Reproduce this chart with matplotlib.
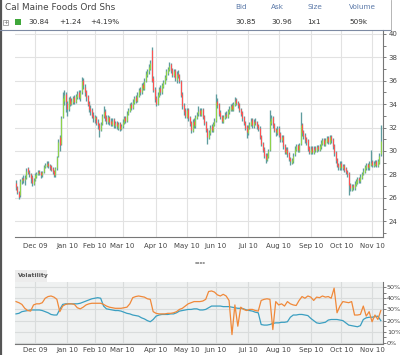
import numpy as np
import pandas as pd
import matplotlib
matplotlib.use('Agg')
import matplotlib.pyplot as plt
from matplotlib.patches import Rectangle
from matplotlib.lines import Line2D

# trading calendar (NYSE holidays removed)
holidays = ['2009-11-26', '2009-12-25', '2010-01-01', '2010-01-18', '2010-02-15',
            '2010-04-02', '2010-05-31', '2010-07-05', '2010-09-06']
dates = pd.bdate_range('2009-11-11', '2010-11-09', freq='C', holidays=holidays)

# daily prices
opens = [
    27.3, 26.9, 26.5, 26.2, 27.4, 27.7, 27.5, 27.7, 28.5, 28.2, 28.0, 27.8, 27.2,
    27.5, 27.8, 28.0, 28.3, 28.2, 27.9, 28.2, 28.6, 28.7, 29.0, 28.8, 28.7, 28.5, 28.3, 27.9, 28.5, 29.6, 31.2, 30.6, 32.9, 34.3, 34.9,
    34.1, 33.6, 34.5, 34.0, 34.2, 34.6, 34.2, 34.6, 35.0, 34.5, 35.0, 36.1, 35.5, 35.1, 34.7, 34.1, 33.7, 33.5, 33.1,
    32.7, 32.9, 32.5, 32.3, 31.8, 32.3, 33.0, 33.4, 32.9, 32.5, 32.9, 32.6, 32.2, 32.7, 32.1, 32.5, 32.0, 32.4, 31.9,
    32.1, 32.4, 32.9, 32.6, 33.2, 33.4, 34.0, 33.7, 34.1, 34.6, 34.3, 34.7, 35.3, 35.0, 35.7, 35.3, 36.0, 36.5, 36.8, 37.0, 38.6, 36.2, 35.3,
    34.5, 34.0, 34.7, 35.4, 35.0, 35.5, 35.8, 36.2, 36.7, 36.9, 37.4, 37.0, 36.4, 36.9, 36.1, 36.7, 36.5, 36.0, 34.9, 33.9, 33.5,
    32.9, 33.6, 32.9, 32.5, 31.7, 32.6, 32.1, 32.8, 33.2, 33.5, 33.1, 33.6, 33.0, 32.5, 31.9, 31.1, 31.5, 32.1, 31.7, 32.2,
    32.6, 34.3, 34.0, 33.3, 33.0, 32.5, 32.8, 33.2, 32.9, 33.3, 33.5, 33.9, 33.5, 33.9, 34.4, 34.2, 34.0, 33.6, 33.3, 32.9, 32.5, 32.1,
    31.5, 32.0, 32.2, 32.7, 32.1, 32.6, 32.5, 32.2, 32.0, 31.3, 30.7, 30.2, 29.7, 29.2, 29.5, 30.1, 32.4, 32.9, 32.3, 31.9, 31.5,
    32.0, 31.5, 30.9, 31.3, 30.5, 29.8, 30.2, 29.8, 29.4, 29.0, 29.1, 29.7, 30.1, 30.5, 30.0, 30.6, 32.3, 31.7, 31.4, 31.1, 30.9, 30.3,
    29.8, 30.3, 29.8, 30.3, 30.0, 30.4, 30.1, 30.3, 30.6, 31.0, 30.5, 30.8, 31.2, 30.7, 31.3, 31.0, 30.5, 29.9, 29.3, 28.9, 28.5,
    29.0, 28.5, 28.8, 28.5, 28.3, 28.1, 27.2, 26.7, 27.1, 26.8, 27.1, 27.3, 27.7, 27.4, 27.7, 28.0, 28.2, 28.5, 28.9, 28.5, 28.8,
    29.1, 28.7, 28.8, 29.1, 28.7, 29.0, 29.7,
]
highs = [
    27.5, 27.0, 26.6, 27.6, 27.8, 27.9, 27.9, 28.5, 28.6, 28.4, 28.1, 27.9, 27.7,
    28.1, 28.2, 28.4, 28.4, 28.3, 28.3, 28.8, 29.0, 29.1, 29.1, 28.9, 28.8, 28.6, 28.4, 28.6, 29.6, 31.0, 31.4, 33.0, 35.0, 35.2, 35.0,
    34.3, 34.6, 34.7, 34.5, 34.7, 34.8, 34.9, 35.1, 35.2, 35.2, 36.3, 36.2, 35.7, 35.2, 34.8, 34.3, 33.9, 33.7, 33.3,
    33.1, 33.0, 32.7, 32.4, 32.5, 33.2, 33.8, 33.6, 33.1, 33.1, 33.0, 32.8, 32.8, 32.8, 32.6, 32.6, 32.5, 32.5, 32.3,
    32.7, 33.0, 33.0, 33.4, 33.7, 34.1, 34.2, 34.4, 34.7, 34.8, 35.0, 35.4, 35.5, 35.8, 35.9, 36.2, 36.8, 37.0, 37.4, 37.8, 38.9, 36.4, 35.5,
    34.7, 35.0, 35.5, 35.6, 35.8, 36.1, 36.5, 37.0, 37.2, 37.6, 37.5, 37.1, 37.0, 37.0, 36.8, 36.9, 36.6, 36.1, 35.0, 34.1, 33.7,
    33.7, 33.7, 33.0, 32.6, 32.7, 32.8, 33.1, 33.3, 33.8, 33.7, 33.7, 33.7, 33.1, 32.6, 32.0, 31.8, 32.2, 32.3, 32.5, 32.8,
    34.9, 34.5, 34.1, 33.5, 33.1, 33.1, 33.3, 33.4, 33.6, 33.8, 34.0, 34.1, 34.2, 34.6, 34.5, 34.3, 34.1, 33.7, 33.4, 33.0, 32.6, 32.2,
    32.2, 32.5, 32.8, 32.8, 32.7, 32.8, 32.6, 32.3, 32.1, 31.4, 30.8, 30.3, 29.8, 29.8, 30.2, 33.5, 33.1, 33.0, 32.4, 32.0, 32.1,
    32.1, 31.6, 31.4, 31.4, 30.6, 30.3, 30.3, 29.9, 29.5, 29.4, 29.8, 30.4, 30.6, 30.6, 30.7, 33.3, 32.4, 31.8, 31.5, 31.2, 31.0, 30.4,
    30.4, 30.4, 30.4, 30.4, 30.5, 30.5, 30.6, 30.9, 31.1, 31.1, 31.1, 31.3, 31.3, 31.4, 31.4, 31.1, 30.6, 30.0, 29.4, 29.0, 29.1,
    29.1, 28.9, 28.9, 28.6, 28.4, 28.2, 27.3, 27.2, 27.2, 27.4, 27.6, 27.8, 27.8, 28.0, 28.2, 28.5, 28.8, 29.0, 29.0, 29.1, 30.1,
    29.2, 29.1, 29.2, 29.2, 29.3, 29.8, 32.2,
]
lows = [
    26.7, 26.3, 25.9, 26.1, 27.2, 27.3, 27.1, 27.6, 28.0, 27.8, 27.3, 27.0, 27.1,
    27.4, 27.7, 27.9, 27.9, 27.7, 27.8, 28.1, 28.5, 28.6, 28.5, 28.4, 28.3, 28.0, 27.8, 27.8, 28.4, 29.5, 30.0, 30.5, 32.8, 33.9, 33.3,
    33.0, 33.4, 33.8, 33.9, 34.0, 34.0, 34.1, 34.4, 34.4, 34.3, 34.9, 35.3, 34.7, 34.3, 33.8, 33.3, 33.1, 32.8, 32.5,
    32.4, 32.2, 31.9, 31.2, 31.7, 32.2, 32.8, 32.6, 32.3, 32.3, 32.2, 32.1, 32.1, 32.0, 32.0, 31.9, 31.8, 31.7, 31.8,
    32.0, 32.3, 32.4, 32.5, 33.1, 33.3, 33.5, 33.6, 34.0, 34.1, 34.2, 34.6, 34.8, 34.9, 35.2, 35.2, 35.9, 36.3, 36.6, 36.9, 35.9, 35.0, 34.2,
    33.8, 33.9, 34.6, 34.8, 34.9, 35.4, 35.7, 36.1, 36.5, 36.8, 36.7, 36.3, 36.3, 36.0, 35.8, 36.2, 35.8, 34.6, 33.6, 33.1, 32.8,
    32.8, 32.6, 32.1, 31.5, 31.6, 32.0, 32.0, 32.7, 33.0, 33.0, 33.0, 32.7, 32.2, 31.6, 30.6, 31.0, 31.4, 31.6, 31.6, 32.1,
    32.5, 33.7, 33.0, 32.7, 32.4, 32.4, 32.7, 32.8, 32.8, 33.2, 33.4, 33.4, 33.4, 33.8, 33.9, 33.7, 33.3, 33.0, 32.6, 32.2, 31.8, 31.1,
    31.4, 31.9, 32.1, 32.0, 32.0, 32.2, 31.9, 31.7, 31.0, 30.4, 29.9, 29.4, 29.0, 29.1, 29.4, 30.0, 32.2, 32.0, 31.6, 31.3, 31.4,
    31.2, 30.8, 30.8, 30.2, 29.7, 29.7, 29.5, 29.1, 28.8, 28.9, 29.0, 29.6, 30.0, 29.9, 29.9, 30.5, 31.3, 31.0, 30.7, 30.5, 30.0, 29.7,
    29.7, 29.7, 29.7, 29.9, 29.9, 30.0, 30.0, 30.2, 30.5, 30.4, 30.4, 30.7, 30.6, 30.6, 30.7, 30.2, 29.6, 29.0, 28.6, 28.4, 28.4,
    28.4, 28.4, 28.2, 28.0, 27.8, 26.2, 26.6, 26.6, 26.7, 26.7, 27.0, 27.2, 27.3, 27.3, 27.6, 27.9, 28.1, 28.4, 28.4, 28.4, 28.7,
    28.6, 28.6, 28.7, 28.6, 28.6, 28.9, 29.6,
]
closes = [
    26.9, 26.5, 26.1, 27.4, 27.6, 27.5, 27.7, 28.3, 28.2, 28.0, 27.7, 27.3, 27.5,
    27.9, 28.0, 28.2, 28.1, 27.9, 28.2, 28.6, 28.8, 28.9, 28.7, 28.6, 28.4, 28.2, 27.9, 28.5, 29.5, 30.8, 30.5, 32.8, 34.5, 34.8, 34.2,
    33.6, 34.4, 34.0, 34.3, 34.5, 34.2, 34.7, 34.9, 34.6, 35.0, 36.0, 35.6, 35.0, 34.6, 34.0, 33.6, 33.4, 33.0, 32.8,
    32.9, 32.4, 32.2, 31.8, 32.3, 33.0, 33.3, 32.8, 32.6, 32.9, 32.5, 32.3, 32.6, 32.2, 32.4, 32.1, 32.3, 31.9, 32.1,
    32.5, 32.8, 32.6, 33.2, 33.5, 33.9, 33.7, 34.2, 34.5, 34.3, 34.8, 35.2, 35.0, 35.6, 35.4, 36.0, 36.6, 36.8, 37.2, 37.5, 36.0, 35.2, 34.4,
    34.0, 34.8, 35.3, 35.0, 35.6, 35.9, 36.3, 36.8, 37.0, 37.3, 36.9, 36.5, 36.8, 36.2, 36.6, 36.4, 36.0, 34.8, 33.8, 33.4, 33.0,
    33.5, 32.8, 32.4, 31.8, 32.5, 32.2, 32.9, 33.1, 33.4, 33.2, 33.5, 32.9, 32.4, 31.8, 31.2, 31.6, 32.0, 31.8, 32.3, 32.6,
    34.2, 33.9, 33.2, 32.9, 32.6, 32.9, 33.1, 33.0, 33.4, 33.6, 33.8, 33.6, 34.0, 34.3, 34.1, 33.9, 33.5, 33.2, 32.8, 32.4, 32.0, 31.6,
    32.0, 32.3, 32.6, 32.2, 32.5, 32.4, 32.1, 31.9, 31.2, 30.6, 30.1, 29.6, 29.3, 29.6, 30.0, 32.6, 32.8, 32.2, 31.8, 31.6, 31.9,
    31.4, 31.0, 31.2, 30.4, 29.9, 30.1, 29.7, 29.3, 29.1, 29.2, 29.6, 30.2, 30.4, 30.1, 30.5, 32.2, 31.6, 31.3, 31.0, 30.8, 30.2, 29.9,
    30.2, 29.9, 30.2, 30.1, 30.3, 30.2, 30.4, 30.7, 30.9, 30.6, 30.9, 31.1, 30.8, 31.2, 30.9, 30.4, 29.8, 29.2, 28.8, 28.6, 28.9,
    28.6, 28.7, 28.4, 28.2, 28.0, 27.1, 26.8, 27.0, 26.9, 27.2, 27.4, 27.6, 27.5, 27.8, 28.0, 28.3, 28.6, 28.8, 28.6, 28.9, 29.0,
    28.8, 28.9, 29.0, 28.8, 29.1, 29.6, 30.84,
]

# volatility (%), one reading every second trading day
vol_step = 2
vol_blue = [
    26, 26.5, 28, 28.5, 29, 29.5, 29.5, 29.5, 29.5, 29,
    28, 27, 25.5, 25, 25, 30, 34.5, 35, 35, 35,
    35, 35, 35.5, 36.5, 37.5, 38.5, 39.5, 40, 40.5, 40,
    33, 30.5, 30, 29.5, 29, 29, 28.5, 27.5, 26.5, 26,
    25, 24.5, 24, 22.5, 21.5, 20, 19, 21, 24, 25,
    25.5, 25.5, 25.5, 26, 26, 27, 28.5, 29, 29.5, 30,
    30, 30.5, 30.5, 29.5, 29.5, 30, 31.5, 33, 33, 33,
    33, 32.5, 32.5, 32.5, 32, 31.5, 31, 31, 30.5, 29.5,
    29, 28.5, 27.5, 27, 16.5, 16, 16, 16.5, 17.5, 18,
    18, 18.5, 18.5, 19, 23, 25, 25, 25.5, 25.5, 25,
    24.5, 22, 20, 18, 17.5, 18, 18.5, 20.5, 21, 21,
    21, 20.5, 20, 18, 16, 15.5, 15, 14.5, 15.5, 21,
    22.5, 23, 23, 23.5, 24, 20,
]
vol_orange = [
    37, 36, 34.5, 31, 29, 28.5, 34, 35, 35, 36,
    40, 41.5, 42, 41, 39, 28, 33, 34.5, 35, 35,
    34.5, 31.5, 30.5, 32, 34, 35, 35.5, 35.5, 35.5, 35.5,
    34.5, 33, 32, 31.5, 31, 31, 31, 31.5, 32, 35,
    40.5, 41.5, 42, 41.5, 41, 39.5, 39, 28, 26.5, 26,
    26, 26, 26.5, 26.5, 27, 28, 30, 31, 33, 35,
    36, 37, 37, 37, 37.5, 39, 46, 46.5, 45.5, 43,
    42, 43.5, 42, 38, 7.5, 34, 15, 32, 30, 29,
    30, 30, 29, 28.5, 38, 39, 39.5, 39, 12, 37,
    34, 35, 33, 37, 35, 34, 33.5, 38, 41.5, 40,
    42, 41, 38, 41, 40.5, 42, 41, 41.5, 40, 49,
    27, 33, 37, 36.5, 36, 37, 25, 25, 25.5, 33,
    24, 28, 19, 25, 21, 29,
]

o = np.array(opens); h = np.array(highs); l = np.array(lows); c = np.array(closes)
n = len(dates)
assert len(o) == len(h) == len(l) == len(c) == n
x = np.arange(n)
xv = np.arange(0, n, vol_step)

month_pos = [i for i in range(1, n) if dates[i].month != dates[i - 1].month]
month_lbl = [dates[i].strftime('%b %y') for i in month_pos]

W, H = 400, 355
fig = plt.figure(figsize=(W / 100, H / 100), dpi=100)

def fx(px):
    return px / W

def fy(py):
    return 1 - py / H

# ---- price panel
ax = fig.add_axes([fx(15), fy(237), fx(368), 207 / H])
up = c >= o
ax.vlines(x, l, h, color='#5f9c9e', lw=0.95, zorder=2)
ax.vlines(x[up], o[up], c[up], color='#8fd24a', lw=0.8, zorder=3)
ax.vlines(x[~up], c[~up], o[~up], color='#ff5252', lw=0.8, zorder=3)
ax.set_xlim(-0.7, 251.5)
ax.set_ylim(22.64, 40.34)
ax.yaxis.tick_right()
ax.set_yticks(range(24, 41, 2))
ax.set_yticks(range(23, 41, 1), minor=True)
ax.set_xticks(month_pos)
ax.set_xticklabels(month_lbl)
ax.grid(True, color='#e2e2e2', lw=0.8, zorder=0)
ax.tick_params(axis='y', which='both', direction='out', length=2.5, width=0.6,
               colors='#666666', labelcolor='#444444', labelsize=5, pad=1.5)
ax.tick_params(axis='x', length=0, labelsize=5, labelcolor='#444444', pad=4)
for s in ['left', 'top']:
    ax.spines[s].set_visible(False)
for s in ['bottom', 'right']:
    ax.spines[s].set_color('#777777')
    ax.spines[s].set_linewidth(0.8)

# ---- volatility panel
axv = fig.add_axes([fx(15), fy(344), fx(368), 62 / H])
axv.set_facecolor('#eff1f1')
axv.plot(xv, vol_blue, color='#3b9fc1', lw=0.9, zorder=3)
axv.plot(xv, vol_orange, color='#f0893a', lw=0.9, zorder=3)
axv.set_xlim(-0.7, 251.5)
axv.set_ylim(-0.9, 54.5)
axv.yaxis.tick_right()
axv.set_yticks(range(0, 51, 10))
axv.set_yticklabels([f'{v}%' for v in range(0, 51, 10)])
axv.set_yticks(range(5, 51, 10), minor=True)
axv.set_xticks(month_pos)
axv.set_xticklabels(month_lbl)
axv.grid(True, color='#d9dcdc', lw=0.8, zorder=0)
axv.tick_params(axis='y', which='both', direction='out', length=2.0, width=0.6,
                colors='#666666', labelcolor='#444444', labelsize=4.6, pad=0.8)
axv.tick_params(axis='x', length=0, labelsize=5, labelcolor='#444444', pad=2)
for s in ['left', 'top']:
    axv.spines[s].set_visible(False)
for s in ['bottom', 'right']:
    axv.spines[s].set_color('#777777')
    axv.spines[s].set_linewidth(0.8)

# ---- frame and header
fig.add_artist(Line2D([fx(0.8), fx(0.8)], [0, 1], color='#555555', lw=1.6))
fig.add_artist(Line2D([0, fx(390)], [fy(29.8), fy(29.8)], color='#7d8aa3', lw=0.8))
fig.add_artist(Line2D([fx(390.5), fx(390.5)], [fy(29.8), 1], color='#aaaaaa', lw=0.6))

fig.text(fx(5), fy(8), 'Cal Maine Foods Ord Shs', fontsize=6.4, color='#444444', va='center')
fig.add_artist(Rectangle((fx(3), fy(25)), fx(5), 5 / H, transform=fig.transFigure,
                         fc='white', ec='#888888', lw=0.5))
fig.text(fx(5.5), fy(22.2), '+', fontsize=4, color='#666666', ha='center', va='center')
fig.add_artist(Rectangle((fx(15), fy(25)), fx(6), 6 / H, transform=fig.transFigure,
                         fc='#3fa73a', ec='none'))
for px, s in [(28, '30.84'), (59, '+1.24'), (90, '+4.19%')]:
    fig.text(fx(px), fy(22), s, fontsize=5.2, color='#333333', va='center')
for px, s, v in [(235, 'Bid', '30.85'), (271, 'Ask', '30.96'),
                 (307, 'Size', '1x1'), (349, 'Volume', '509k')]:
    fig.text(fx(px), fy(7), s, fontsize=5.2, color='#5a78a8', va='center')
    fig.text(fx(px), fy(22), v, fontsize=5.2, color='#333333', va='center')

# drag handle and panel tab
fig.text(fx(200), fy(262), '\u25aa\u25aa\u25aa\u25aa', fontsize=3, color='#9a9a9a',
         ha='center', va='center')
fig.add_artist(Rectangle((fx(15), fy(282)), fx(32), 12 / H, transform=fig.transFigure,
                         fc='#ececec', ec='none'))
fig.text(fx(18), fy(276), 'Volatility', fontsize=4.3, color='#555555', fontweight='bold',
         va='center')

fig.savefig('out.png', dpi=100)
